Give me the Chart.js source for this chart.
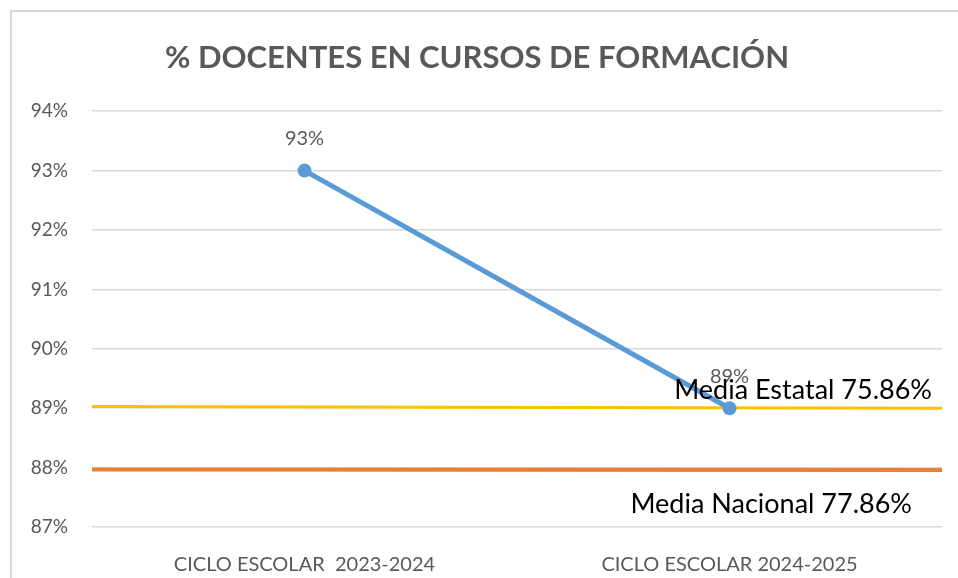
<!DOCTYPE html>
<html>
<head>
<meta charset="utf-8">
<script src="https://cdn.jsdelivr.net/npm/chart.js@4.4.1/dist/chart.umd.min.js"></script>
<style>
  html, body { margin: 0; padding: 0; background: #fff; }
  #caja {
    position: absolute; left: 10px; top: 10px; width: 948px; height: 568px;
    border-left: 2px solid #d9d9d9; border-top: 2px solid #d9d9d9;
  }
</style>
</head>
<body>
<div id="caja"><canvas id="chart"></canvas></div>
<script>
// Datos del gráfico
var ciclos = ["CICLO ESCOLAR  2023-2024", "CICLO ESCOLAR 2024-2025"];
var docentes = [93, 89];
var mediaEstatal = [89.03, 89.0];   // línea amarilla (posición en el eje)
var mediaNacional = [87.97, 87.96]; // línea naranja
var textosMedia = ["Media Estatal 75.86%", "Media Nacional 77.86%"];
var ticksY = [87, 88, 89, 90, 91, 92, 93, 94];

var gris = "#595959";
var fuente = "Lato, 'Liberation Sans', sans-serif";

// Etiquetas de los puntos y textos de las medias
var etiquetas = {
  id: "etiquetas",
  afterDatasetsDraw: function (chart) {
    var ctx = chart.ctx;
    var y = chart.scales.y;
    var area = chart.chartArea;
    ctx.save();
    ctx.textBaseline = "middle";
    ctx.textAlign = "center";
    ctx.fillStyle = gris;
    ctx.font = "20px " + fuente;
    chart.getDatasetMeta(0).data.forEach(function (p, i) {
      ctx.fillText(docentes[i] + "%", p.x, p.y - 32);
    });
    ctx.fillStyle = "#000";
    ctx.font = "27px " + fuente;
    ctx.textAlign = "right";
    ctx.fillText(textosMedia[0], area.right - 10, y.getPixelForValue(mediaEstatal[1]) - 18);
    ctx.fillText(textosMedia[1], area.right - 30, y.getPixelForValue(mediaNacional[1]) + 34);
    ctx.restore();
  }
};

var ctx = document.getElementById("chart").getContext("2d");
var Grafico = new Chart(ctx, {
  type: "line",
  data: {
    labels: ciclos,
    datasets: [
      {
        label: "% Docentes",
        data: docentes,
        borderColor: "#5B9BD5",
        backgroundColor: "#5B9BD5",
        borderWidth: 5,
        pointRadius: 7,
        pointHoverRadius: 7,
        pointBorderWidth: 0
      },
      {
        label: "Media Estatal",
        xAxisID: "x2",
        data: [{ x: 0, y: mediaEstatal[0] }, { x: 1, y: mediaEstatal[1] }],
        borderColor: "#FFC000",
        borderWidth: 3,
        pointRadius: 0
      },
      {
        label: "Media Nacional",
        xAxisID: "x2",
        data: [{ x: 0, y: mediaNacional[0] }, { x: 1, y: mediaNacional[1] }],
        borderColor: "#ED7D31",
        borderWidth: 4,
        pointRadius: 0
      }
    ]
  },
  options: {
    responsive: true,
    maintainAspectRatio: false,
    animation: false,
    layout: { padding: { left: 0, right: 18, top: 0, bottom: 0 } },
    plugins: {
      legend: { display: false },
      tooltip: { enabled: false },
      title: {
        display: true,
        text: "% DOCENTES EN CURSOS DE FORMACIÓN",
        color: gris,
        font: { family: fuente, size: 31, weight: "bold" },
        padding: { top: 27, bottom: 35 }
      }
    },
    scales: {
      x: {
        offset: true,
        grid: { display: false },
        border: { display: false },
        ticks: { color: gris, font: { family: fuente, size: 20 }, padding: 18, maxRotation: 0 },
        afterFit: function (s) { s.height = 53; }
      },
      x2: {
        type: "linear",
        min: 0,
        max: 1,
        display: false
      },
      y: {
        min: 87,
        max: 94,
        afterBuildTicks: function (s) { s.ticks = ticksY.map(function (v) { return { value: v }; }); },
        grid: { color: "#d9d9d9", lineWidth: 1.5, drawTicks: false },
        border: { display: false },
        ticks: {
          color: gris,
          font: { family: fuente, size: 19 },
          padding: 24,
          callback: function (v) { return v + "%"; }
        },
        afterFit: function (s) { s.width = 80; }
      }
    }
  },
  plugins: [etiquetas]
});
</script>
</body>
</html>
